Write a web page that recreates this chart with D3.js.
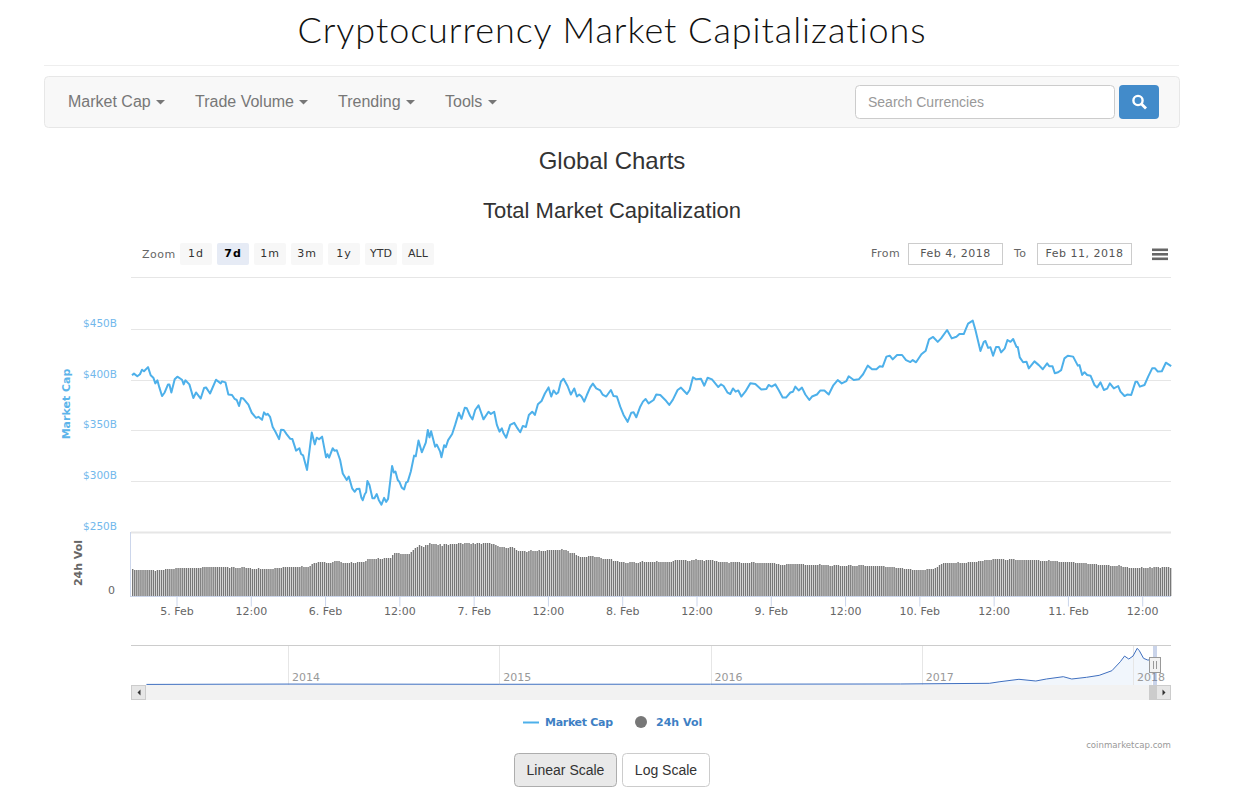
<!DOCTYPE html>
<html lang="en">
    <head>
        <meta charset="utf-8" />
        <title>Cryptocurrency Market Capitalizations</title>
        <script src="https://d3js.org/d3.v7.min.js"></script>
        <style>
            html, body { margin: 0; padding: 0; background: #fff; overflow: hidden; }
            svg { display: block; }
            .chart-text { font-family: "DejaVu Sans", sans-serif; }
            .page-text { font-family: "Liberation Sans", Arial, sans-serif; }
        </style>
    </head>
    <body>
        <div id="container"></div>
        <script>
            // hours since the left edge of the 7d window, and market cap in $B
            const capHours = [
                0.16,0.48,1.02,1.45,1.78,2.1,2.75,3.18,3.61,3.93,4.26,4.58,5.01,5.44,5.98,6.2,6.52,7.06,7.49,8.24,
                8.51,8.78,9.43,10.07,10.5,11.26,11.8,12.12,12.77,13.74,14.49,14.71,15.25,15.73,16.32,16.75,17.08,17.45,17.78,18.15,
                18.96,19.5,20.2,20.58,21.17,21.49,21.82,22.09,22.46,22.89,23.33,23.92,24.24,24.67,25.16,25.7,26.07,26.67,27.2,27.47,
                27.8,28.44,29.2,29.68,30,30.38,30.87,31.51,31.73,32,32.59,32.86,33.24,33.78,34.21,34.85,35.18,35.72,36.15,36.47,
                36.9,37.22,37.44,37.76,37.98,38.19,38.52,39,39.32,39.7,40.02,40.46,40.89,41.21,41.53,42.18,42.45,42.72,43.09,43.36,
                43.74,44.12,44.44,44.71,45.2,45.73,46,46.44,46.98,47.62,47.95,48.21,48.48,49.13,49.4,49.94,50.15,50.58,50.85,51.23,
                51.88,52.36,52.95,53.39,53.92,54.25,54.79,55.17,55.6,56.14,56.41,56.94,57.75,58.13,58.67,59.1,59.53,59.91,60.18,60.61,
                61.25,61.9,62.33,62.87,63.3,63.79,64.27,64.81,65.24,65.73,66.32,66.86,67.45,67.88,68.26,68.69,69.01,69.44,69.87,70.52,
                71.06,71.6,72.03,72.41,72.78,73.21,73.64,74.18,74.61,75.15,75.8,76.18,76.77,77.52,77.95,78.49,79.03,79.57,80.22,80.81,
                81.19,81.62,82.26,82.7,83.13,83.61,84.42,84.85,85.5,86.3,86.95,87.54,88.3,88.84,89.27,89.81,90.24,90.78,91.31,92.07,
                92.61,93.15,93.85,94.87,95.3,95.73,96.38,96.81,97.24,97.67,98.1,98.59,99.23,100.04,100.85,101.82,102.63,103,103.49,104.08,
                104.62,105.27,105.81,106.51,106.94,107.31,107.85,108.39,108.93,109.58,110.01,110.81,111.36,112.01,112.71,113.41,114.16,114.81,115.56,115.94,
                116.75,117.56,118.26,119.01,119.71,120.41,120.95,121.43,122.03,122.56,123.05,123.75,124.56,125.2,125.9,126.28,126.82,127.68,128.38,128.92,
                129.57,130.32,130.86,131.83,132.58,133.34,133.82,134.52,135.22,135.98,136.41,137.22,137.76,138.03,138.46,138.83,139.26,139.75,140.18,140.56,
                141.15,141.58,142.07,142.5,143.04,143.25,143.57,144.11,144.65,145.03,145.94,146.65,147.29,147.99,148.32,148.85,149.23,149.77,150.25,150.79,
                151.33,152.19,152.95,153.22,153.65,154.03,154.46,155,155.64,156.07,156.61,157.15,157.69,158.12,158.77,159.47,159.84,160.49,160.92,161.57,
                162.27,162.54,162.97,163.72,164.31,164.96,165.39,165.87,166.52,167.17,168.03
            ];
            const capValues = [
                405,406.6,404,406,410.5,409,413,405,402.6,397,400,393,384.5,388,396,396,388,401,403.6,400.6,
                396,400,396,382.5,388,382,392.4,393,387,400.6,397,399,398,386,385.5,381.6,380.6,374.7,382.5,382,
                376,368,363,364,361,368.4,366,367,364,354,349.3,342,351.3,351,346.7,342.4,342,330.6,333,327.3,
                326,311.5,348.4,336.8,343.4,341.8,344.4,324,327,323.7,333,330.6,331,321.4,308,301.6,305,293.4,290,292.8,
                293,284,281.6,287.5,289.5,300.7,296.7,283.6,283.6,287.8,282,277.3,284,280,283,315.5,309,310,301.6,299.7,
                294,292.4,299,300,310,325.7,325,340.5,329,338.5,351,343.7,349.7,334.5,336.5,329.6,324,336,334,341,
                347,356,368,362,373,372.4,364.8,361.5,370.7,375.3,370.7,361.5,369,366.8,369,356,349.3,352.6,347.7,343.4,
                356,358,353.6,348.7,355,354,365.8,369,365.8,376.3,379.6,387,393,384,390,386.5,388,398.7,401.6,394.4,
                386,392,384,386,384,379,385.5,393,396.7,392,390,386,384,390.5,384.5,384,374,365.8,359,368,
                368.4,363.5,374,379,381.6,377.3,380.6,386,385.5,380.6,375.7,381,390.5,392.8,390,386.5,390.5,403,401,401.6,
                394.7,402.6,401,393.4,396,394.4,387.8,386.5,392,388.8,390,384,388.8,397,396.4,391,391.4,395.4,393.8,396,
                390.5,383,383,388,388.8,393.8,390,392.8,386,380.6,384,386,390,390,386,394.7,400.3,397,399.3,404,
                400.3,401,406,414.5,411,411,413.8,413.5,423.4,424.3,420.7,425,425,420,418,420,417.8,425.7,429.3,440.5,
                442.8,438,441.4,449.7,441.4,443,445.7,445.7,456,458.9,449.7,429,438,438.8,432,432.6,424.3,433,433,427.6,
                431.6,439.8,438,440.8,433,433,422.7,417.8,418.4,411.8,418.7,415,410.9,416.8,414,414,407,408,410,421.7,
                424.3,423.4,414.5,415,405.3,408,405.3,404.6,395.4,393,398,390.5,391.8,397,392,394.4,388.8,384.5,386,385.5,
                398.7,398.7,393.8,395.4,403.6,411.8,412,408.6,409,417.4,414
            ];
            // one bar every 20 minutes, 24h volume in $B
            const volValues = [
                27,26,26,26,26,26,26,26,26,26,26,25,26,26,26,26,27,27,27,27,27,28,28,28,
                28,28,28,28,28,28,28,28,28,28,29,29,29,29,29,29,29,29,29,29,29,29,29,28,
                29,29,28,28,28,29,29,28,28,28,27,27,27,28,27,27,27,27,27,27,27,28,28,28,
                28,29,29,29,29,29,29,29,29,29,30,29,29,29,30,32,33,33,34,34,34,34,33,33,
                33,34,35,35,35,34,33,33,33,33,34,33,33,34,34,34,34,35,37,37,37,37,37,38,
                37,37,38,38,38,38,41,43,43,43,42,42,42,42,42,44,46,48,49,51,50,49,51,51,
                53,52,52,52,51,52,50,52,52,51,52,52,52,52,53,53,52,53,53,53,52,53,52,53,
                53,52,53,53,53,53,52,52,51,50,49,49,49,48,48,49,49,48,46,45,45,45,45,44,
                45,46,45,45,45,46,45,45,45,46,46,46,46,46,46,46,47,46,46,45,43,43,43,41,
                40,39,39,39,39,40,40,40,39,39,39,38,37,37,37,37,37,35,35,35,34,34,34,33,
                33,34,34,34,33,33,34,35,34,34,34,34,34,34,35,34,34,34,34,34,34,34,35,36,
                36,36,36,36,36,35,35,36,36,37,36,36,36,35,36,36,36,36,35,35,34,34,34,34,
                34,33,34,34,34,34,34,33,33,33,33,33,34,34,33,33,33,33,33,33,33,33,33,33,
                32,32,31,31,31,32,32,32,32,32,32,32,32,32,31,31,31,31,31,31,31,32,31,31,
                31,31,30,30,31,31,31,30,30,30,30,31,31,30,30,30,31,31,31,30,30,30,30,30,
                30,30,30,30,30,29,29,29,29,29,28,28,28,28,27,27,27,27,26,26,26,26,26,26,
                26,27,27,27,27,28,29,31,32,33,33,33,33,33,33,33,34,33,33,33,33,34,34,34,
                34,34,35,35,35,36,36,36,36,37,37,37,37,37,37,36,36,37,37,37,36,36,36,36,
                36,36,36,36,36,36,36,36,35,35,35,35,36,35,35,35,35,34,34,34,34,34,34,34,
                34,33,33,33,33,33,33,32,32,32,32,32,31,31,31,31,31,31,30,30,30,30,31,30,
                29,29,29,28,28,28,28,28,28,29,28,28,28,29,28,29,29,29,28,29,29,29,29,28
            ];
            const capTicks = [250, 300, 350, 400, 450];

            const timeTicks = ['2018-02-05T00:00Z','2018-02-05T12:00Z','2018-02-06T00:00Z','2018-02-06T12:00Z','2018-02-07T00:00Z','2018-02-07T12:00Z','2018-02-08T00:00Z','2018-02-08T12:00Z','2018-02-09T00:00Z','2018-02-09T12:00Z','2018-02-10T00:00Z','2018-02-10T12:00Z','2018-02-11T00:00Z','2018-02-11T12:00Z'];
            const timeLabels = ['5. Feb','12:00','6. Feb','12:00','7. Feb','12:00','8. Feb','12:00','9. Feb','12:00','10. Feb','12:00','11. Feb','12:00'];

            // navigator series, whole history
            const navYears = [2013.33,2014,2015,2016,2016.9,2017.32,2017.37,2017.46,2017.54,2017.59,2017.67,2017.71,2017.78,2017.84,2017.9,2017.94,2017.96,2017.98,2018,2018.02,2018.03,2018.05,2018.07,2018.09];
            const navValues = [2,10,5,7,12,27,64,119,80,126,179,126,165,210,316,522,652,584,652,830,775,600,560,570];
            const navTicks = [2014, 2015, 2016, 2017, 2018];

            const menuItems = ['Market Cap', 'Trade Volume', 'Trending', 'Tools'];
            const menuLeft = [68, 195, 338, 445];
            const menuCaret = [156, 299, 406, 488];
            const zoomLabels = ['1d', '7d', '1m', '3m', '1y', 'YTD', 'ALL'];

            const width = 1235;
            const height = 804;
            const left = 131;
            const right = 1171;
            const windowStart = Date.UTC(2018, 1, 4, 16, 39);
            const hour = 3600000;

            const svg = d3.select('#container')
                          .append('svg')
                          .attr('width', width)
                          .attr('height', height);

            const scaleX = d3.scaleUtc()
                             .domain([windowStart, windowStart + 168 * hour])
                             .range([left, right]);

            const scaleY = d3.scaleLinear()
                             .domain([250, 450])
                             .range([532.3, 329.67]);

            const scaleVol = d3.scaleLinear()
                               .domain([0, 64])
                               .range([596, 532]);

            const scaleNavX = d3.scaleLinear()
                                .domain([2014, 2018])
                                .range([288, 1133]);

            const scaleNavY = d3.scaleLinear()
                                .domain([0, 830])
                                .range([684.5, 648.3]);

            // page header
            const addText = (parent, x, y, text, size, fill, cls, anchor) => parent
                .append('text')
                .attr('class', cls)
                .attr('x', x)
                .attr('y', y)
                .attr('font-size', size)
                .attr('fill', fill)
                .attr('text-anchor', anchor || 'start')
                .text(text);

            const rule = (x1, x2, y1, y2, color, w) => svg
                .append('line')
                .attr('x1', x1).attr('x2', x2)
                .attr('y1', y1).attr('y2', y2)
                .attr('stroke', color)
                .attr('stroke-width', w || 1);

            addText(svg, 612, 42.5, 'Cryptocurrency Market Capitalizations', 36, '#111', 'page-text', 'middle')
                .style('font-family', 'Lato, sans-serif')
                .attr('font-weight', 300)
                .attr('letter-spacing', 0.95);
            rule(44, 1179, 65.5, 65.5, '#eeeeee');

            svg.append('rect')
               .attr('x', 44.5).attr('y', 76.5)
               .attr('width', 1135).attr('height', 51)
               .attr('rx', 4)
               .attr('fill', '#f8f8f8')
               .attr('stroke', '#e7e7e7');

            menuItems.forEach((item, i) => {
                addText(svg, menuLeft[i], 107, item, 16, '#777777', 'page-text');
                svg.append('path')
                   .attr('d', `M${menuCaret[i]},100 h9 l-4.5,4.5 z`)
                   .attr('fill', '#777777');
            });

            svg.append('rect')
               .attr('x', 855.5).attr('y', 85.5)
               .attr('width', 259).attr('height', 33)
               .attr('rx', 4)
               .attr('fill', '#fff')
               .attr('stroke', '#cccccc');
            addText(svg, 868, 107, 'Search Currencies', 14, '#999999', 'page-text');

            svg.append('rect')
               .attr('x', 1119).attr('y', 85)
               .attr('width', 40).attr('height', 34)
               .attr('rx', 4)
               .attr('fill', '#428bca');
            svg.append('circle')
               .attr('cx', 1138).attr('cy', 100.5).attr('r', 4.6)
               .attr('fill', 'none')
               .attr('stroke', '#fff')
               .attr('stroke-width', 2.4);
            rule(1141.5, 1146, 104, 108.5, '#fff', 2.8);

            addText(svg, 612, 169, 'Global Charts', 24, '#333333', 'page-text', 'middle');
            addText(svg, 612, 218, 'Total Market Capitalization', 22, '#333333', 'page-text', 'middle');

            // range selector
            addText(svg, 142, 258, 'Zoom', 11, '#666666', 'chart-text').attr('letter-spacing', 0.5);
            zoomLabels.forEach((label, i) => {
                const bx = 180 + i * 37;
                svg.append('rect')
                   .attr('x', bx).attr('y', 243)
                   .attr('width', 32).attr('height', 22)
                   .attr('rx', 2)
                   .attr('fill', i === 1 ? '#e6ebf5' : '#f7f7f7');
                addText(svg, bx + 16, 257, label, 11, i === 1 ? '#000000' : '#333333', 'chart-text', 'middle')
                    .attr('font-weight', i === 1 ? 'bold' : 'normal')
                    .attr('letter-spacing', i < 5 ? 1 : 0);
            });

            addText(svg, 871, 257, 'From', 11, '#666666', 'chart-text').attr('letter-spacing', 0.5);
            addText(svg, 1014, 257, 'To', 11, '#666666', 'chart-text').attr('letter-spacing', 0.5);
            [[908, 'Feb 4, 2018'], [1037, 'Feb 11, 2018']].forEach(([bx, label]) => {
                svg.append('rect')
                   .attr('x', bx + 0.5).attr('y', 243.5)
                   .attr('width', 94).attr('height', 21)
                   .attr('fill', '#fff')
                   .attr('stroke', '#cccccc');
                addText(svg, bx + 47.5, 257, label, 11, '#555555', 'chart-text', 'middle').attr('letter-spacing', 0.5);
            });
            [248.5, 253, 257.5].forEach(y => {
                svg.append('rect')
                   .attr('x', 1152).attr('y', y)
                   .attr('width', 16).attr('height', 2.6)
                   .attr('fill', '#666666');
            });

            rule(left, right, 277.5, 277.5, '#e6e6e6');

            // market cap panel
            svg.append('g')
               .attr('class', 'grid')
               .selectAll('line')
               .data(capTicks)
               .enter()
               .append('line')
               .attr('x1', left).attr('x2', right)
               .attr('y1', d => Math.floor(scaleY(d)) + 0.5)
               .attr('y2', d => Math.floor(scaleY(d)) + 0.5)
               .attr('stroke', '#e6e6e6')
               .attr('stroke-width', d => d === 250 ? 2 : 1);

            const yAxis = d3.axisLeft(scaleY)
                            .tickValues(capTicks)
                            .tickSize(0)
                            .tickPadding(14)
                            .tickFormat(d => `$${d}B`);

            const yAxisGroup = svg.append('g')
                                  .attr('transform', `translate(${left}, 0)`)
                                  .attr('class', 'chart-text')
                                  .call(yAxis);
            yAxisGroup.select('.domain').remove();
            yAxisGroup.selectAll('text')
                      .attr('y', -3)
                      .attr('dy', 0)
                      .attr('fill', '#72b8ec')
                      .style('font-family', '"DejaVu Sans", sans-serif')
                      .style('font-size', '10.5px');

            const capPoints = capHours.map((h, i) => [windowStart + h * hour, capValues[i]]);
            const capLine = d3.line()
                              .x(d => scaleX(d[0]))
                              .y(d => scaleY(d[1]));

            svg.append('path')
               .datum(capPoints)
               .attr('d', capLine)
               .attr('fill', 'none')
               .attr('stroke', '#4db0ea')
               .attr('stroke-width', 2)
               .attr('stroke-linejoin', 'round');

            addText(svg, 0, 0, 'Market Cap', 11, '#5cb4ea', 'chart-text', 'middle')
                .attr('font-weight', 'bold')
                .attr('transform', 'translate(70, 404) rotate(-90)');
            addText(svg, 0, 0, '24h Vol', 11, '#666666', 'chart-text', 'middle')
                .attr('font-weight', 'bold')
                .attr('transform', 'translate(82, 563) rotate(-90)');
            addText(svg, 115, 594, '0', 11, '#666666', 'chart-text', 'end');

            // volume panel
            svg.append('g')
               .selectAll('rect')
               .data(volValues)
               .enter()
               .append('rect')
               .attr('x', (d, i) => scaleX(windowStart + (0.16 + i / 3) * hour))
               .attr('y', d => scaleVol(d))
               .attr('width', 1.4)
               .attr('height', d => 596 - scaleVol(d))
               .attr('fill', '#777777');

            rule(130.5, 130.5, 532, 597, '#ccd6eb');

            const xAxis = d3.axisBottom(scaleX)
                            .tickValues(timeTicks.map(d => new Date(d)))
                            .tickSize(10)
                            .tickFormat((d, i) => timeLabels[i]);

            const xAxisGroup = svg.append('g')
                                  .attr('transform', 'translate(0, 596.5)')
                                  .call(xAxis);
            xAxisGroup.select('.domain').attr('stroke', '#ccd6eb').attr('d', `M${left - 1},0H${right}`);
            xAxisGroup.selectAll('.tick line').attr('stroke', '#ccd6eb');
            xAxisGroup.selectAll('text')
                      .attr('y', 18.5)
                      .attr('dy', 0)
                      .attr('fill', '#666666')
                      .style('font-family', '"DejaVu Sans", sans-serif')
                      .style('font-size', '11px');

            // navigator
            const navPoints = navYears.map((y, i) => [y, navValues[i]]);
            const navArea = d3.area()
                              .x(d => scaleNavX(d[0]))
                              .y0(685)
                              .y1(d => scaleNavY(d[1]));
            const navLine = d3.line()
                              .x(d => scaleNavX(d[0]))
                              .y(d => scaleNavY(d[1]));

            svg.append('path')
               .datum(navPoints)
               .attr('d', navArea)
               .attr('fill', '#f1f6fc');

            svg.selectAll('.nav-grid')
               .data(navTicks)
               .enter()
               .append('line')
               .attr('class', 'nav-grid')
               .attr('x1', d => Math.round(scaleNavX(d)) + 0.5)
               .attr('x2', d => Math.round(scaleNavX(d)) + 0.5)
               .attr('y1', 646).attr('y2', 685)
               .attr('stroke', '#e6e6e6');

            svg.append('path')
               .datum(navPoints)
               .attr('d', navLine)
               .attr('fill', 'none')
               .attr('stroke', '#3f6fbf')
               .attr('stroke-width', 1);

            svg.selectAll('.nav-label')
               .data(navTicks)
               .enter()
               .append('text')
               .attr('class', 'nav-label chart-text')
               .attr('x', d => scaleNavX(d) + 4)
               .attr('y', 681)
               .attr('font-size', 11)
               .attr('fill', '#999999')
               .text(d => d);

            rule(left, right, 645.5, 645.5, '#cccccc');

            // selected window in the navigator
            svg.append('rect')
               .attr('x', 1153).attr('y', 646)
               .attr('width', 4).attr('height', 39)
               .attr('fill', 'rgba(102,133,194,0.35)');
            svg.append('rect')
               .attr('x', 1149.5).attr('y', 657.5)
               .attr('width', 11).attr('height', 15)
               .attr('fill', '#f2f2f2')
               .attr('stroke', '#999999');
            rule(1153.5, 1153.5, 661, 669, '#999999');
            rule(1156.5, 1156.5, 661, 669, '#999999');

            // scrollbar
            svg.append('rect')
               .attr('x', left).attr('y', 685)
               .attr('width', right - left).attr('height', 15)
               .attr('fill', '#f2f2f2');
            svg.append('rect')
               .attr('x', 1149).attr('y', 685)
               .attr('width', 7).attr('height', 15)
               .attr('fill', '#cccccc');
            [left, right - 15].forEach(bx => {
                svg.append('rect')
                   .attr('x', bx + 0.5).attr('y', 685.5)
                   .attr('width', 14).attr('height', 14)
                   .attr('fill', '#e6e6e6')
                   .attr('stroke', '#cccccc');
            });
            svg.append('path').attr('d', 'M140.5,689.5 v6 l-3,-3 z').attr('fill', '#333333');
            svg.append('path').attr('d', 'M1162.5,689.5 v6 l3,-3 z').attr('fill', '#333333');

            // legend
            rule(523, 539, 722.5, 722.5, '#4db0ea', 2);
            addText(svg, 545, 726, 'Market Cap', 11, '#3e7fc4', 'chart-text')
                .attr('font-weight', 'bold')
                .attr('letter-spacing', -0.3);
            svg.append('circle').attr('cx', 641).attr('cy', 722).attr('r', 6).attr('fill', '#777777');
            addText(svg, 656, 726, '24h Vol', 11, '#3e7fc4', 'chart-text').attr('font-weight', 'bold');

            addText(svg, 1171, 748, 'coinmarketcap.com', 8.6, '#999999', 'chart-text', 'end');

            // scale buttons
            svg.append('rect')
               .attr('x', 514.5).attr('y', 753.5)
               .attr('width', 102).attr('height', 33)
               .attr('rx', 4)
               .attr('fill', '#e9e9e9')
               .attr('stroke', '#adadad');
            addText(svg, 565.5, 775, 'Linear Scale', 14, '#333333', 'page-text', 'middle');
            svg.append('rect')
               .attr('x', 622.5).attr('y', 753.5)
               .attr('width', 87).attr('height', 33)
               .attr('rx', 4)
               .attr('fill', '#fff')
               .attr('stroke', '#cccccc');
            addText(svg, 666, 775, 'Log Scale', 14, '#333333', 'page-text', 'middle');
        </script>
    </body>
</html>
